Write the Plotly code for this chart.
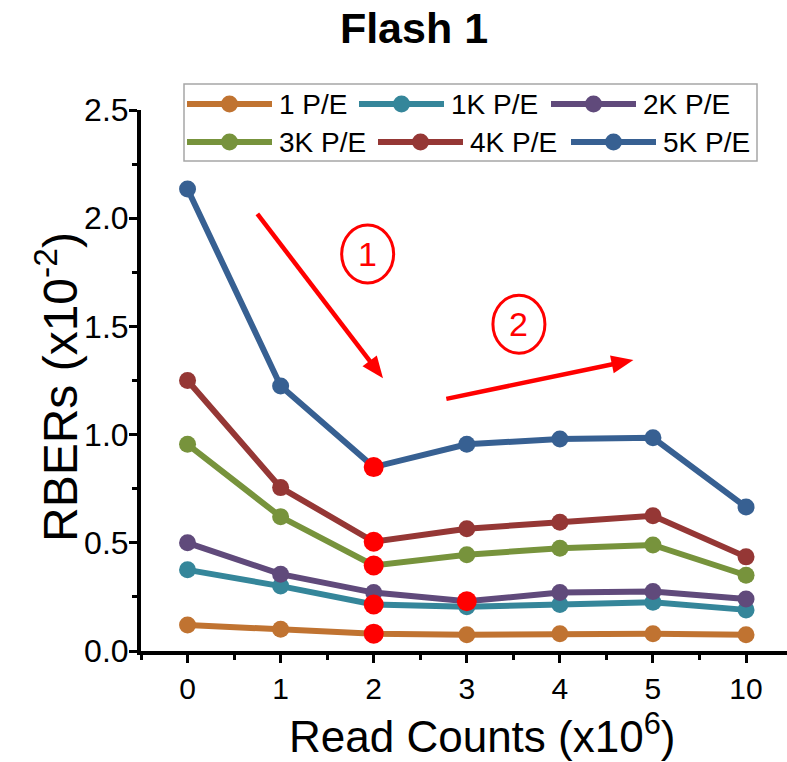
import math
import plotly.graph_objects as go

# ---------------- data ----------------
READ_COUNTS = ["0", "1", "2", "3", "4", "5", "10"]
SERIES_NAMES = ["1 P/E", "1K P/E", "2K P/E", "3K P/E", "4K P/E", "5K P/E"]
RBER_1 = [0.12, 0.10, 0.08, 0.075, 0.08, 0.08, 0.075]
RBER_1K = [0.375, 0.30, 0.215, 0.205, 0.215, 0.225, 0.19]
RBER_2K = [0.50, 0.355, 0.27, 0.23, 0.27, 0.275, 0.24]
RBER_3K = [0.955, 0.62, 0.395, 0.445, 0.475, 0.49, 0.35]
RBER_4K = [1.25, 0.755, 0.505, 0.565, 0.595, 0.625, 0.435]
RBER_5K = [2.135, 1.225, 0.85, 0.955, 0.98, 0.985, 0.665]
SERIES_VALUES = [RBER_1, RBER_1K, RBER_2K, RBER_3K, RBER_4K, RBER_5K]
SERIES_COLORS = ["#C07331", "#35869A", "#604A7B", "#77933C", "#953735", "#376092"]
# highlighted points: (series index, read-count index)
HIGHLIGHTS = [(5, 2), (4, 2), (3, 2), (1, 2), (0, 2), (2, 3)]
Y_TICKS = [0.0, 0.5, 1.0, 1.5, 2.0, 2.5]
# trend arrows (tail -> head) and circled step labels, in data units
ARROWS = [((0.75, 2.02), (2.10, 1.26)), ((2.78, 1.165), (4.79, 1.345))]
STEPS = [("1", 1.935, 1.835), ("2", 3.56, 1.51)]

# ---------------- geometry helpers ----------------
W, H = 787, 762
L, R, T, B = 141, 787, 110, 651
XR = [-0.5, 6.44]
YR = [0.0, 2.5]


def px(xp):
    return (xp - L) / (R - L)


def py(yp):
    return (B - yp) / (B - T)


def dx2pix(x):
    return L + (x - XR[0]) / (XR[1] - XR[0]) * (R - L)


def dy2pix(y):
    return B - (y - YR[0]) / (YR[1] - YR[0]) * (B - T)


FONT = "Liberation Sans, Arial, sans-serif"
x_idx = list(range(len(READ_COUNTS)))

fig = go.Figure()
for name, vals, col in zip(SERIES_NAMES, SERIES_VALUES, SERIES_COLORS):
    fig.add_trace(go.Scatter(
        x=x_idx, y=vals, name=name, mode="lines+markers",
        line=dict(color=col, width=6),
        marker=dict(color=col, size=17),
        showlegend=False, cliponaxis=False,
    ))

hx = [ci for si, ci in HIGHLIGHTS]
hy = [SERIES_VALUES[si][ci] for si, ci in HIGHLIGHTS]
fig.add_trace(go.Scatter(x=hx, y=hy, mode="markers", name="highlight",
                         marker=dict(color="#FF0000", size=20),
                         showlegend=False, cliponaxis=False))

shapes = []
annotations = []

# ---- custom legend (long line samples) ----
LEG_ROWS_Y = [104, 142]
LEG_LINE_X = [[187, 359, 551], [187, 378, 571]]
LEG_LINE_LEN = 85
shapes.append(dict(type="rect", xref="paper", yref="paper",
                   x0=px(184), x1=px(757), y0=py(84), y1=py(161),
                   line=dict(color="#A6A6A6", width=1.5), fillcolor="rgba(0,0,0,0)"))
for i, (name, col) in enumerate(zip(SERIES_NAMES, SERIES_COLORS)):
    r, c = divmod(i, 3)
    x0 = LEG_LINE_X[r][c]
    yy = LEG_ROWS_Y[r]
    shapes.append(dict(type="line", xref="paper", yref="paper",
                       x0=px(x0), x1=px(x0 + LEG_LINE_LEN), y0=py(yy), y1=py(yy),
                       line=dict(color=col, width=6)))
    shapes.append(dict(type="circle", xref="paper", yref="paper",
                       xsizemode="pixel", ysizemode="pixel",
                       xanchor=px(x0 + LEG_LINE_LEN / 2), yanchor=py(yy),
                       x0=-8.5, x1=8.5, y0=-8.5, y1=8.5,
                       fillcolor=col, line=dict(color=col, width=0)))
    annotations.append(dict(xref="paper", yref="paper", x=px(x0 + LEG_LINE_LEN + 5), y=py(yy),
                            xanchor="left", yanchor="middle", showarrow=False,
                            text=name, font=dict(family=FONT, size=28, color="black")))

# ---- trend arrows drawn as shaft + filled head ----
HEAD_LEN, HEAD_HALF = 22, 9
for (tx, ty), (hx_, hy_) in ARROWS:
    x1p, y1p = dx2pix(tx), dy2pix(ty)
    x2p, y2p = dx2pix(hx_), dy2pix(hy_)
    d = math.hypot(x2p - x1p, y2p - y1p)
    ux, uy = (x2p - x1p) / d, (y2p - y1p) / d
    bx, by = x2p - ux * HEAD_LEN, y2p - uy * HEAD_LEN
    nx, ny = -uy, ux
    shapes.append(dict(type="line", xref="paper", yref="paper",
                       x0=px(x1p), y0=py(y1p), x1=px(bx + ux * 2), y1=py(by + uy * 2),
                       line=dict(color="#FF0000", width=4.5)))
    pts = [(x2p, y2p), (bx + nx * HEAD_HALF, by + ny * HEAD_HALF),
           (bx - nx * HEAD_HALF, by - ny * HEAD_HALF)]
    path = "M " + " L ".join(f"{px(a):.5f},{py(b):.5f}" for a, b in pts) + " Z"
    shapes.append(dict(type="path", xref="paper", yref="paper", path=path,
                       fillcolor="#FF0000", line=dict(color="#FF0000", width=0)))

for label, cx, cy in STEPS:
    shapes.append(dict(type="circle", xref="x", yref="y",
                       xsizemode="pixel", ysizemode="pixel",
                       xanchor=cx, yanchor=cy, x0=-26, x1=26, y0=-29, y1=29,
                       line=dict(color="#FF0000", width=3), fillcolor="rgba(0,0,0,0)"))
    annotations.append(dict(x=cx, y=cy, xref="x", yref="y", text=label, showarrow=False,
                            xanchor="center", yanchor="middle",
                            font=dict(family=FONT, size=34, color="#FF0000")))

# ---- axis titles ----
annotations.append(dict(xref="paper", yref="paper", x=px(482), y=py(733),
                        xanchor="center", yanchor="middle", showarrow=False,
                        text="Read Counts (x10<sup>6</sup>)",
                        font=dict(family=FONT, size=44, color="black")))
annotations.append(dict(xref="paper", yref="paper", x=px(57), y=py(387),
                        xanchor="center", yanchor="middle", showarrow=False,
                        textangle=-90, text="RBERs (x10<sup>-2</sup>)",
                        font=dict(family=FONT, size=48, color="black")))

fig.update_layout(
    width=W, height=H,
    margin=dict(l=L, r=W - R, t=T, b=H - B, pad=0),
    paper_bgcolor="white", plot_bgcolor="white",
    title=dict(text="<b>Flash 1</b>", x=414 / W, xanchor="center",
               y=1 - 28 / H, yanchor="middle", yref="container",
               font=dict(family=FONT, size=43, color="black")),
    shapes=shapes, annotations=annotations,
    showlegend=False,
)
fig.update_xaxes(
    range=XR, tickmode="array", tickvals=x_idx, ticktext=READ_COUNTS,
    showline=True, linecolor="black", linewidth=4, mirror=False,
    ticks="outside", ticklen=8, tickwidth=3, tickcolor="black",
    minor=dict(tickmode="array", tickvals=[i + 0.5 for i in range(-1, len(READ_COUNTS))],
               ticks="outside", ticklen=5, tickwidth=3, tickcolor="black"),
    showgrid=False, zeroline=False,
    tickfont=dict(family=FONT, size=30, color="black"),
)
fig.update_yaxes(
    range=YR, tickmode="array", tickvals=Y_TICKS, tickformat=".1f",
    showline=True, linecolor="black", linewidth=4, mirror=False,
    ticks="outside", ticklen=8, tickwidth=3, tickcolor="black",
    ticklabelstandoff=-6,
    minor=dict(dtick=0.25, tick0=0, ticks="outside", ticklen=5, tickwidth=3, tickcolor="black"),
    showgrid=False, zeroline=False,
    tickfont=dict(family=FONT, size=32, color="black"),
)

fig.write_html("out.html")
